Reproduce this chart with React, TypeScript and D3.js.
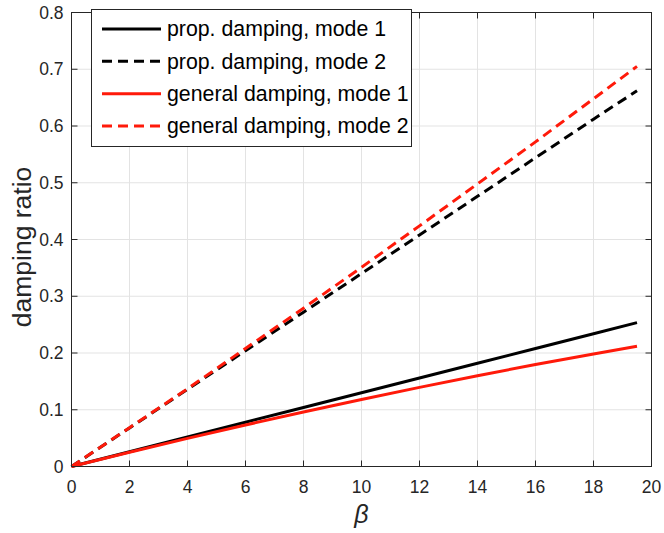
import React, {useEffect, useRef} from 'react';
import * as d3 from 'd3';

// beta values where the curves were sampled
const betaValues: number[] = [0, 2, 4, 6, 8, 10, 12, 14, 16, 18, 19.5];

// damping ratios
const propMode1: number[] = [0, 0.026, 0.052, 0.078, 0.104, 0.13, 0.156, 0.182, 0.208, 0.234, 0.2535];
const propMode2: number[] = [0, 0.068, 0.136, 0.204, 0.272, 0.34, 0.408, 0.476, 0.544, 0.612, 0.662];
const generalMode1: number[] = [0, 0.0252, 0.0496, 0.0732, 0.0961, 0.1181, 0.1394, 0.16, 0.1797, 0.1984, 0.212];
const generalMode2: number[] = [0, 0.0684, 0.137, 0.208, 0.279, 0.351, 0.424, 0.498, 0.572, 0.648, 0.705];

const seriesNames: string[] = [
  'prop. damping, mode 1',
  'prop. damping, mode 2',
  'general damping, mode 1',
  'general damping, mode 2',
];
const seriesColors: string[] = ['#000000', '#000000', '#ff1a0a', '#ff1a0a'];
const seriesDashed: boolean[] = [false, true, false, true];

const xTicks: number[] = [0, 2, 4, 6, 8, 10, 12, 14, 16, 18, 20];
const yTicks: number[] = [0, 0.1, 0.2, 0.3, 0.4, 0.5, 0.6, 0.7, 0.8];

const App = () => {
  const ref = useRef<SVGSVGElement | null>(null);

  useEffect(() => {
    drawChart();
    return () => {
      d3.select(ref.current).selectAll('*').remove();
    };
  }, []);

  const drawChart = () => {
    const width = 664;
    const height = 533;
    const plot = {left: 71.5, right: 651.5, top: 12.5, bottom: 466.5};
    const font = '"Liberation Sans", Arial, Helvetica, sans-serif';
    const axisColor = '#262626';

    const svg = d3.select(ref.current)
      .attr('width', width)
      .attr('height', height);

    svg.append('rect')
      .attr('width', width)
      .attr('height', height)
      .attr('fill', 'white');

    const x = d3.scaleLinear().domain([0, 20]).range([plot.left, plot.right]);
    const y = d3.scaleLinear().domain([0, 0.8]).range([plot.bottom, plot.top]);

    // grid
    const grid = svg.append('g');
    grid.selectAll('.vgrid')
      .data(xTicks)
      .enter().append('line')
      .attr('x1', d => x(d)).attr('x2', d => x(d))
      .attr('y1', plot.top).attr('y2', plot.bottom)
      .attr('stroke', '#e3e3e3').attr('stroke-width', 1);
    grid.selectAll('.hgrid')
      .data(yTicks)
      .enter().append('line')
      .attr('y1', d => y(d)).attr('y2', d => y(d))
      .attr('x1', plot.left).attr('x2', plot.right)
      .attr('stroke', '#e3e3e3').attr('stroke-width', 1);

    // data lines
    const allSeries = [propMode1, propMode2, generalMode1, generalMode2];
    const line = d3.line<number>()
      .x((_, i) => x(betaValues[i]))
      .y(d => y(d));

    allSeries.forEach((vals, i) => {
      svg.append('path')
        .datum(vals)
        .attr('d', line)
        .attr('fill', 'none')
        .attr('stroke', seriesColors[i])
        .attr('stroke-width', 3)
        .attr('stroke-dasharray', seriesDashed[i] ? '10,6' : null);
    });

    // box + ticks (inward, like matlab)
    const tickLen = 6;
    const axes = svg.append('g');
    axes.append('rect')
      .attr('x', plot.left).attr('y', plot.top)
      .attr('width', plot.right - plot.left)
      .attr('height', plot.bottom - plot.top)
      .attr('fill', 'none')
      .attr('stroke', axisColor)
      .attr('stroke-width', 1);

    xTicks.forEach(t => {
      axes.append('line')
        .attr('x1', x(t)).attr('x2', x(t))
        .attr('y1', plot.bottom).attr('y2', plot.bottom - tickLen)
        .attr('stroke', axisColor);
      axes.append('line')
        .attr('x1', x(t)).attr('x2', x(t))
        .attr('y1', plot.top).attr('y2', plot.top + tickLen)
        .attr('stroke', axisColor);
      axes.append('text')
        .attr('x', x(t))
        .attr('y', plot.bottom + 26)
        .attr('text-anchor', 'middle')
        .attr('font-family', font)
        .attr('font-size', '17.5px')
        .attr('fill', axisColor)
        .text(String(t));
    });

    yTicks.forEach(t => {
      axes.append('line')
        .attr('x1', plot.left).attr('x2', plot.left + tickLen)
        .attr('y1', y(t)).attr('y2', y(t))
        .attr('stroke', axisColor);
      axes.append('line')
        .attr('x1', plot.right).attr('x2', plot.right - tickLen)
        .attr('y1', y(t)).attr('y2', y(t))
        .attr('stroke', axisColor);
      axes.append('text')
        .attr('x', plot.left - 8)
        .attr('y', y(t))
        .attr('dy', '0.35em')
        .attr('text-anchor', 'end')
        .attr('font-family', font)
        .attr('font-size', '17.5px')
        .attr('fill', axisColor)
        .text(t === 0 ? '0' : d3.format('.1f')(t));
    });

    // axis labels
    svg.append('text')
      .attr('transform', `translate(31,247) rotate(-90)`)
      .attr('text-anchor', 'middle')
      .attr('font-family', font)
      .attr('font-size', '26.5px')
      .attr('fill', axisColor)
      .text('damping ratio');

    svg.append('text')
      .attr('x', x(10))
      .attr('y', 523)
      .attr('text-anchor', 'middle')
      .attr('font-family', font)
      .attr('font-style', 'italic')
      .attr('font-size', '25px')
      .attr('fill', axisColor)
      .text('β');

    // legend
    const legend = svg.append('g');
    legend.append('rect')
      .attr('x', 91.5).attr('y', 9.5)
      .attr('width', 320).attr('height', 137)
      .attr('fill', 'white')
      .attr('stroke', axisColor)
      .attr('stroke-width', 1);

    const rowY = d3.scalePoint<string>().domain(seriesNames).range([29, 126]);
    seriesNames.forEach((name, i) => {
      const ry = rowY(name) as number;
      legend.append('line')
        .attr('x1', 102).attr('x2', 161)
        .attr('y1', ry).attr('y2', ry)
        .attr('stroke', seriesColors[i])
        .attr('stroke-width', 3)
        .attr('stroke-dasharray', seriesDashed[i] ? '10,6' : null);
      legend.append('text')
        .attr('x', 167)
        .attr('y', ry)
        .attr('dy', '0.35em')
        .attr('font-family', font)
        .attr('font-size', '21.3px')
        .attr('fill', '#000')
        .text(name);
    });
  };

  return (
    <svg ref={ref} style={{position: 'absolute', left: 0, top: 0, display: 'block'}}></svg>
  );
};

export default App;
